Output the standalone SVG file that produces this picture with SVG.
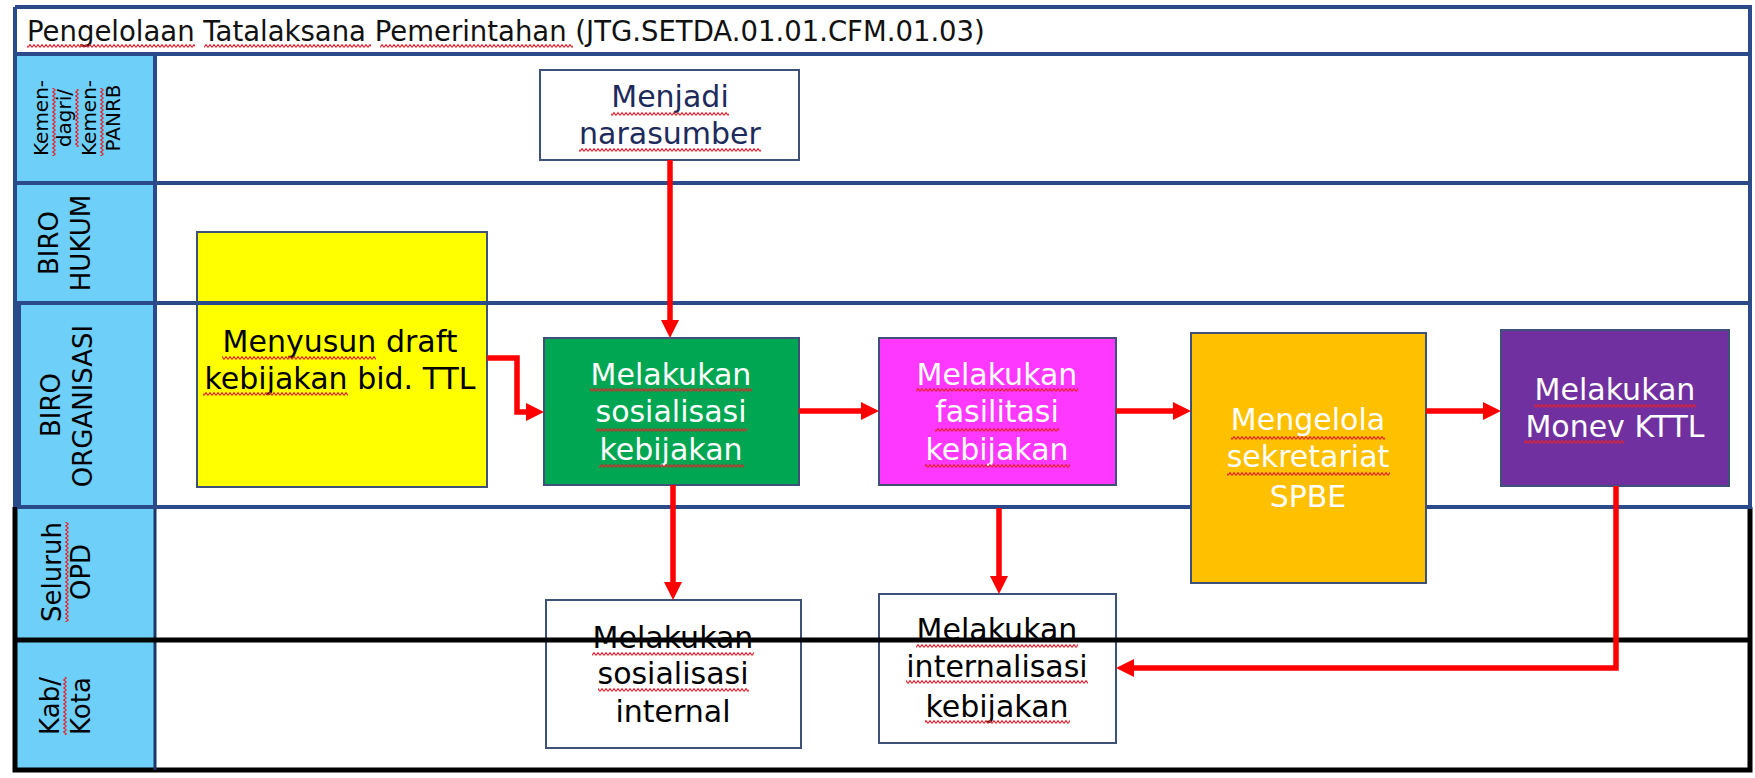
<svg xmlns="http://www.w3.org/2000/svg" width="1755" height="778" viewBox="0 0 1755 778">
<defs>
<style>
.lane{fill:#ffffff}
.lbl{fill:#6ECFF8}
.bl{stroke:#2B4A8A;stroke-width:4;fill:none}
.blk{stroke:#000000;stroke-width:5;fill:none}
.box{stroke:#3E5179;stroke-width:2}
.t{font-family:"DejaVu Sans","Liberation Sans",sans-serif;text-anchor:middle}
.bt{font-size:30px}
.lt{font-size:26px;fill:#000}
.kt{font-size:20px;fill:#000}
.w{fill:#ffffff}
.k{fill:#000000}
.sq{fill:url(#sq)}
.conn{stroke:#FF0000;stroke-width:5.5;fill:none;marker-end:url(#ah)}
</style>
<pattern id="sq" width="4" height="4" patternUnits="userSpaceOnUse">
<path d="M0,3.4 L2,0.6 L4,3.4" fill="none" stroke="#E8202A" stroke-width="1.1"/>
</pattern>
<marker id="ah" markerUnits="userSpaceOnUse" markerWidth="19" markerHeight="19" refX="12" refY="9" orient="auto">
<path d="M0,0 L18,9 L0,18 z" fill="#FF0000"/>
</marker>
</defs>
<rect x="0" y="0" width="1755" height="778" fill="#ffffff"/>
<g id="lanes">
<rect class="lane" x="15" y="7" width="1735" height="763"/>
<rect class="lbl" x="15" y="54" width="140" height="716"/>
<g id="title">
<text x="27" y="41" font-family="DejaVu Sans, Liberation Sans, sans-serif" font-size="27.5" fill="#111">Pengelolaan Tatalaksana Pemerintahan (JTG.SETDA.01.01.CFM.01.03)</text>
<rect class="sq" x="27" y="44" width="168" height="4"/>
<rect class="sq" x="204" y="44" width="167" height="4"/>
<rect class="sq" x="380" y="44" width="193" height="4"/>
</g>
<g id="lane-labels">
<g class="t kt">
<g transform="translate(48,118) rotate(-90)"><text>Kemen-</text><rect class="sq" x="-38" y="4" width="68" height="4"/></g>
<g transform="translate(71,118) rotate(-90)"><text>dagri/</text><rect class="sq" x="-29" y="4" width="58" height="4"/></g>
<g transform="translate(96,118) rotate(-90)"><text>Kemen-</text><rect class="sq" x="-38" y="4" width="68" height="4"/></g>
<g transform="translate(120,118) rotate(-90)"><text>PANRB</text></g>
</g>
<g class="t lt">
<text transform="translate(58,243) rotate(-90)">BIRO</text>
<text transform="translate(90,243) rotate(-90)">HUKUM</text>
<text transform="translate(60,405) rotate(-90)">BIRO</text>
<text transform="translate(92,406) rotate(-90)">ORGANISASI</text>
<g transform="translate(61,572) rotate(-90)"><text>Seluruh</text><rect class="sq" x="-50" y="4" width="100" height="4"/></g>
<text transform="translate(90,572) rotate(-90)">OPD</text>
<g transform="translate(59,706) rotate(-90)"><text>Kab/</text><rect class="sq" x="-29" y="4" width="58" height="4"/></g>
<text transform="translate(90,706) rotate(-90)">Kota</text>
</g>
</g>
<path class="bl" d="M15,7 H1750 V507 M15,7 V507"/>
<path class="bl" d="M15,54 H1750" stroke-width="5"/>
<path class="bl" d="M15,183 H1750"/>
<path class="bl" d="M155,54 V507"/>
<path class="blk" d="M15,507 V770 H1750 V507" stroke-width="4"/>
<path d="M155,507 V770" stroke="#1F3566" stroke-width="3"/>
</g>
<g id="node-draft">
<rect class="box" x="197" y="232" width="290" height="255" fill="#FFFF00"/>
<text class="t bt k" x="340" y="352">Menyusun draft</text>
<text class="t bt k" x="340" y="389">kebijakan bid. TTL</text>
<rect class="sq" x="222" y="356" width="154" height="4"/>
<rect class="sq" x="203" y="392" width="145" height="4"/>
</g>
<g id="lane-birorg">
<rect x="19" y="303" width="1731" height="204" fill="none" stroke="#2B4A8A" stroke-width="4"/>
</g>
<g id="node-narasumber">
<rect class="box" x="540" y="70" width="259" height="90" fill="#ffffff"/>
<text class="t bt" x="670" y="107" fill="#1C2A5C">Menjadi</text>
<text class="t bt" x="670" y="144" fill="#1C2A5C">narasumber</text>
<rect class="sq" x="611" y="112" width="118" height="4"/>
<rect class="sq" x="579" y="148" width="182" height="4"/>
</g>
<g id="node-sosialisasi">
<rect class="box" x="544" y="338" width="255" height="147" fill="#00A651"/>
<text class="t bt w" x="671" y="385">Melakukan</text>
<text class="t bt w" x="671" y="422">sosialisasi</text>
<text class="t bt w" x="671" y="460">kebijakan</text>
<rect class="sq" x="590" y="388" width="162" height="4"/>
<rect class="sq" x="596" y="428" width="151" height="4"/>
<rect class="sq" x="599" y="464" width="145" height="4"/>
</g>
<g id="node-fasilitasi">
<rect class="box" x="879" y="338" width="237" height="147" fill="#FF38FF"/>
<text class="t bt w" x="997" y="385">Melakukan</text>
<text class="t bt w" x="997" y="422">fasilitasi</text>
<text class="t bt w" x="997" y="460">kebijakan</text>
<rect class="sq" x="916" y="388" width="162" height="4"/>
<rect class="sq" x="935" y="428" width="124" height="4"/>
<rect class="sq" x="925" y="464" width="145" height="4"/>
</g>
<g id="node-sekretariat">
<rect class="box" x="1191" y="333" width="235" height="250" fill="#FFC000"/>
<text class="t bt w" x="1308" y="430">Mengelola</text>
<text class="t bt w" x="1308" y="467">sekretariat</text>
<text class="t bt w" x="1308" y="507">SPBE</text>
<rect class="sq" x="1231" y="436" width="154" height="4"/>
<rect class="sq" x="1227" y="472" width="163" height="4"/>
</g>
<g id="node-monev">
<rect class="box" x="1501" y="330" width="228" height="156" fill="#7030A0"/>
<text class="t bt w" x="1615" y="400">Melakukan</text>
<text class="t bt w" x="1615" y="437">Monev KTTL</text>
<rect class="sq" x="1534" y="404" width="162" height="4"/>
<rect class="sq" x="1524" y="440" width="100" height="4"/>
</g>
<g id="node-sosint">
<rect class="box" x="546" y="600" width="255" height="148" fill="#ffffff"/>
<text class="t bt k" x="673" y="648">Melakukan</text>
<text class="t bt k" x="673" y="684">sosialisasi</text>
<text class="t bt k" x="673" y="722">internal</text>
<rect class="sq" x="592" y="652" width="162" height="4"/>
<rect class="sq" x="598" y="688" width="151" height="4"/>
</g>
<g id="node-internalisasi">
<rect class="box" x="879" y="594" width="237" height="149" fill="#ffffff"/>
<text class="t bt k" x="997" y="640">Melakukan</text>
<text class="t bt k" x="997" y="677">internalisasi</text>
<text class="t bt k" x="997" y="717">kebijakan</text>
<rect class="sq" x="916" y="644" width="162" height="4"/>
<rect class="sq" x="906" y="680" width="182" height="4"/>
<rect class="sq" x="925" y="720" width="145" height="4"/>
</g>
<g id="lane-divider">
<path class="blk" d="M15,640 H1750"/>
</g>
<g id="connectors">
<path class="conn" d="M487,358 H517 V412 H538"/>
<path class="conn" d="M670,160 V332"/>
<path class="conn" d="M799,411 H873"/>
<path class="conn" d="M1116,411 H1185"/>
<path class="conn" d="M1426,411 H1495"/>
<path class="conn" d="M673,485 V594"/>
<path class="conn" d="M999,508 V588"/>
<path class="conn" d="M1616,486 V668 H1122"/>
</g>
</svg>
